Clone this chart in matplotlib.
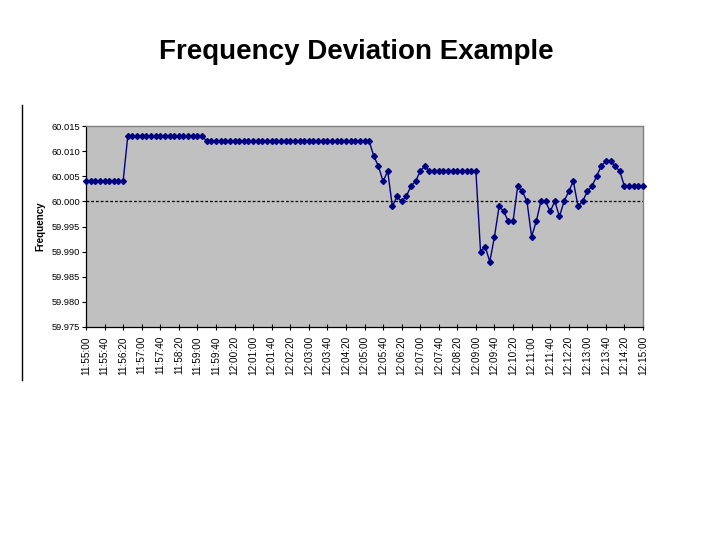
import matplotlib
matplotlib.use("Agg")
import matplotlib.pyplot as plt
from matplotlib.lines import Line2D

plt.rcParams['font.family'] = ['Liberation Sans', 'DejaVu Sans']

title = "Frequency Deviation Example"
y_label = "Frequency"

frequency = [
    60.004, 60.004, 60.004, 60.004, 60.004, 60.004, 60.004, 60.004, 60.004,
    60.013, 60.013, 60.013, 60.013, 60.013, 60.013, 60.013, 60.013, 60.013,
    60.013, 60.013, 60.013, 60.013, 60.013, 60.013, 60.013, 60.013,
    60.012, 60.012, 60.012, 60.012, 60.012, 60.012, 60.012, 60.012, 60.012,
    60.012, 60.012, 60.012, 60.012, 60.012, 60.012, 60.012, 60.012, 60.012,
    60.012, 60.012, 60.012, 60.012, 60.012, 60.012, 60.012, 60.012, 60.012,
    60.012, 60.012, 60.012, 60.012, 60.012, 60.012, 60.012, 60.012, 60.012,
    60.009, 60.007, 60.004, 60.006, 59.999, 60.001, 60.000, 60.001, 60.003,
    60.004, 60.006, 60.007,
    60.006, 60.006, 60.006, 60.006, 60.006, 60.006, 60.006, 60.006, 60.006,
    60.006, 60.006,
    59.990, 59.991, 59.988, 59.993, 59.999, 59.998, 59.996, 59.996, 60.003,
    60.002, 60.000, 59.993, 59.996, 60.000, 60.000, 59.998, 60.000, 59.997,
    60.000, 60.002, 60.004, 59.999, 60.000, 60.002, 60.003, 60.005, 60.007,
    60.008, 60.008, 60.007, 60.006,
    60.003, 60.003, 60.003, 60.003, 60.003,
]

time_labels = [
    "11:55:00", "11:55:40", "11:56:20", "11:57:00", "11:57:40", "11:58:20",
    "11:59:00", "11:59:40", "12:00:20", "12:01:00", "12:01:40", "12:02:20",
    "12:03:00", "12:03:40", "12:04:20", "12:05:00", "12:05:40", "12:06:20",
    "12:07:00", "12:07:40", "12:08:20", "12:09:00", "12:09:40", "12:10:20",
    "12:11:00", "12:11:40", "12:12:20", "12:13:00", "12:13:40", "12:14:20",
    "12:15:00",
]

y_ticks = [59.975, 59.980, 59.985, 59.990, 59.995, 60.000, 60.005, 60.010, 60.015]
nominal = 60.000

fig = plt.figure(figsize=(7.2, 5.4), dpi=100)
fig.patch.set_facecolor('white')

ax = fig.add_axes([86/720, 1-327/540, (643-86)/720, (327-126)/540])
ax.set_facecolor('#C0C0C0')

x = list(range(len(frequency)))
ax.plot(x, frequency, color='#000080', lw=1.0, marker='D', markersize=3.0,
        markerfacecolor='#000080', markeredgecolor='#000080', clip_on=False, zorder=3)
ax.axhline(nominal, color='black', lw=0.9, linestyle=(0, (2.2, 1.6)), zorder=2)

ax.set_xlim(0, len(frequency) - 1)
ax.set_ylim(59.975, 60.015)

ax.set_yticks(y_ticks)
ax.set_yticklabels([f"{v:.3f}" for v in y_ticks], fontsize=6.7)
tick_pos = list(range(0, len(frequency), 4))
ax.set_xticks(tick_pos)
ax.set_xticklabels(time_labels, rotation=90, fontsize=7.2)
ax.tick_params(axis='x', direction='inout', length=5, width=0.8, pad=4)
ax.tick_params(axis='y', direction='out', length=3, width=0.8, pad=1.5)

for s in ['left', 'bottom']:
    ax.spines[s].set_color('black')
    ax.spines[s].set_linewidth(0.9)
for s in ['top', 'right']:
    ax.spines[s].set_color('#808080')
    ax.spines[s].set_linewidth(1.0)

ax.set_ylabel(y_label, fontsize=7, fontweight='bold')
ax.yaxis.set_label_coords((45 - 86) / 557, 0.5)

fig.text(356/720, 1-52/540, title, ha='center', va='center',
         fontsize=20, fontweight='bold')

fig.add_artist(Line2D([22/720, 22/720], [1-105/540, 1-380/540],
                      color='black', lw=1.0, transform=fig.transFigure))

fig.savefig('out.png', dpi=100, facecolor='white')
